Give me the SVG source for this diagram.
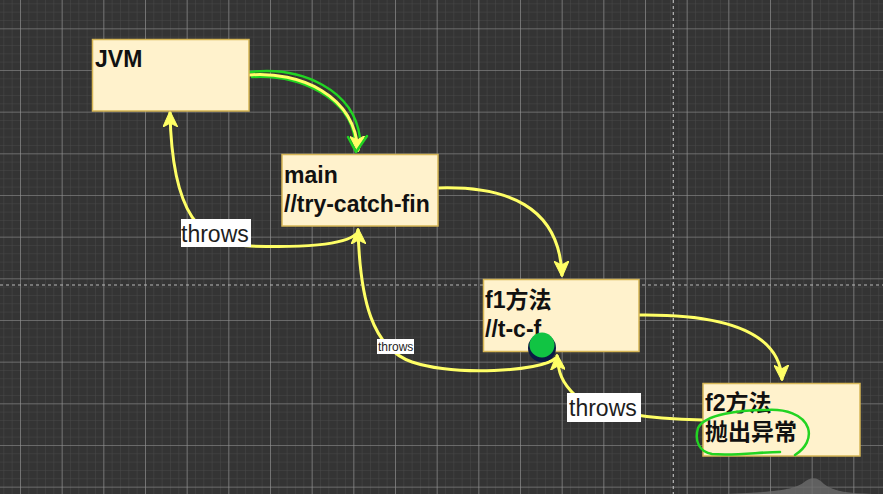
<svg xmlns="http://www.w3.org/2000/svg" width="883" height="494" viewBox="0 0 883 494">
  <style>
    .node rect { fill: #FFF2CC; stroke: #D6B656; stroke-width: 1.5; }
    .node text { font-family: "Liberation Sans", "Noto Sans CJK SC", sans-serif; font-size: 23px; font-weight: bold; fill: #111; }
    .edge { fill: none; stroke: #FFFF66; stroke-width: 3; }
    .lbl rect { fill: #ffffff; }
    .lbl text { font-family: "Liberation Sans", sans-serif; fill: #1e1e1e; }
    .ink { fill: none; stroke: #22d422; stroke-width: 2.5; stroke-linecap: round; stroke-linejoin: round; }
  </style>
  <defs>
    <pattern id="minor" x="20" y="28.33" width="8.333" height="8.333" patternUnits="userSpaceOnUse">
      <path d="M0,0 V8.333 M0,0 H8.333" stroke="#4a4a4a" stroke-width="1" fill="none"/>
    </pattern>
    <pattern id="major" x="20" y="28.33" width="41.667" height="41.667" patternUnits="userSpaceOnUse">
      <path d="M0,0 V41.667 M0,0 H41.667" stroke="#959595" stroke-width="1.2" fill="none"/>
    </pattern>
    <marker id="arrow" viewBox="0 0 16 15" refX="15" refY="7.5" markerWidth="16" markerHeight="15" markerUnits="userSpaceOnUse" orient="auto">
      <path d="M0,0 L16,7.5 L0,15 L4,7.5 Z" fill="#FFFF66" stroke="#FFFF66" stroke-width="1"/>
    </marker>
  </defs>

  <!-- canvas and grid -->
  <rect width="883" height="494" fill="#343434"/>
  <rect width="883" height="494" fill="url(#minor)"/>
  <rect width="883" height="494" fill="url(#major)"/>
  <path d="M673.3,0 V494" stroke="#b8b8b8" stroke-width="1.2" stroke-dasharray="3,3"/>
  <path d="M0,285 H883" stroke="#b8b8b8" stroke-width="1.2" stroke-dasharray="3,3"/>
  <path d="M725,494 C 775,492 792,490 803,483 C 810,477 817,476 824,484 C 834,492 850,493 872,494 Z" fill="#6c6c6c" opacity="0.8"/>

  <!-- connectors -->
  <g id="connectors">
    <path class="ink" d="M250,72 C 302,66 354,90 360,138" stroke-width="3"/>
    <path class="ink" d="M252,77 C 300,74 350,98 355,140" stroke-width="1.5"/>
    <path class="edge" d="M249,75 C 300,71 355,95 358,151" marker-end="url(#arrow)"/>
    <path class="ink" d="M348,137 L356,152 L367,136"/>
    <path class="edge" d="M438,188 C 505,186 560,205 562,276" marker-end="url(#arrow)"/>
    <path class="edge" d="M639,315 C 720,314 780,330 782,380" marker-end="url(#arrow)"/>
    <path class="edge" d="M703,420 C 650,419 595,412 575,395 C 562,383 558,372 557,355" marker-end="url(#arrow)"/>
    <path class="edge" d="M556,358 C 540,372 455,376 412,362 C 372,348 360,300 358,229" marker-end="url(#arrow)"/>
    <path class="edge" d="M356,234 C 345,245 300,248 250,246 C 200,244 172,215 170,112" marker-end="url(#arrow)"/>
  </g>

  <!-- edge labels -->
  <g class="lbl">
    <rect x="181" y="219" width="70" height="28"/>
    <text x="181" y="242" font-size="23">throws</text>
    <rect x="377" y="339" width="37" height="15"/>
    <text x="378" y="351" font-size="12">throws</text>
    <rect x="567" y="393" width="74" height="29"/>
    <text x="569" y="416" font-size="23">throws</text>
  </g>

  <!-- nodes -->
  <g id="jvm" class="node">
    <rect x="92.5" y="39.5" width="156.5" height="71.5"/>
    <text x="95" y="67">JVM</text>
  </g>
  <g id="main" class="node">
    <rect x="282" y="154.5" width="156" height="71.5"/>
    <text x="284" y="183">main</text>
    <text x="284" y="212">//try-catch-fin</text>
  </g>
  <g id="f1" class="node">
    <rect x="483.5" y="279.5" width="155.5" height="72"/>
    <text x="485" y="308">f1方法</text>
    <text x="485" y="337">//t-c-f</text>
  </g>
  <g id="f2" class="node">
    <rect x="703" y="383.5" width="157" height="72.5"/>
    <text x="705" y="411">f2方法</text>
    <text x="705" y="440">抛出异常</text>
  </g>

  <!-- annotation marks -->
  <circle cx="542" cy="348" r="14" fill="#0b1a44"/>
  <circle cx="542" cy="345" r="12.5" fill="#11c443"/>
  <path class="ink" d="M795,455 C 806,448 811,438 808,428 C 803,414 785,409 767,410 C 740,410 705,414 698,428 C 694,442 700,452 712,454 C 735,456 760,452 780,452"/>
</svg>
